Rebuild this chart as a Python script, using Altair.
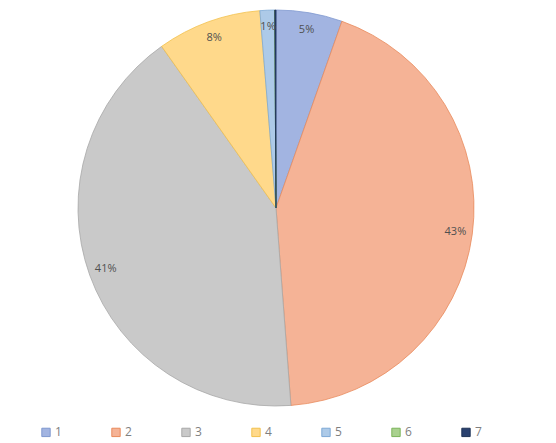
import altair as alt
import pandas as pd

categories = ["1", "2", "3", "4", "5", "6", "7"]
values = [5.4, 43.4, 41.4, 8.5, 1.2, 0.0, 0.1]
fills = ["#A2B4E1", "#F5B396", "#C9C9C9", "#FFD98B", "#ADCAE8", "#A9D18E", "#2A416F"]
strokes = ["#7F98CF", "#E98A5C", "#A8A8A8", "#F2C14E", "#7EA9D6", "#7CB45A", "#1F3356"]

total = sum(values)
df = pd.DataFrame({
    "cat": categories,
    "val": values,
    "order": list(range(len(categories))),
})
df["label"] = [f"{round(v / total * 100)}%" if round(v / total * 100) >= 1 else "" for v in values]

cx, cy, R = 268, 198, 198


def make_legend():
    return alt.Legend(
        title=None,
        orient="none",
        legendX=32,
        legendY=416,
        direction="horizontal",
        symbolType="square",
        symbolSize=70,
        symbolStrokeWidth=1,
        labelFont="Open Sans",
        labelFontSize=12,
        labelColor="#7F7F7F",
        labelOffset=3,
        columnPadding=47,
        padding=0,
    )


base = alt.Chart(df).encode(
    theta=alt.Theta("val:Q", stack=True),
    order=alt.Order("order:Q"),
)

pie = base.mark_arc(radius=R, strokeWidth=0.8).encode(
    x=alt.value(cx),
    y=alt.value(cy),
    color=alt.Color("cat:N", scale=alt.Scale(domain=categories, range=fills), legend=make_legend()),
    stroke=alt.Stroke("cat:N", scale=alt.Scale(domain=categories, range=strokes), legend=make_legend()),
)

text = base.mark_text(radius=181, font="Open Sans", fontSize=11, color="#505050").encode(
    x=alt.value(cx),
    y=alt.value(cy),
    text="label:N",
)

chart = (
    alt.layer(pie, text)
    .properties(width=540, height=427, padding=0)
    .configure_view(stroke=None)
)

chart.save("out.html", embed_options={"renderer": "svg", "actions": False})
